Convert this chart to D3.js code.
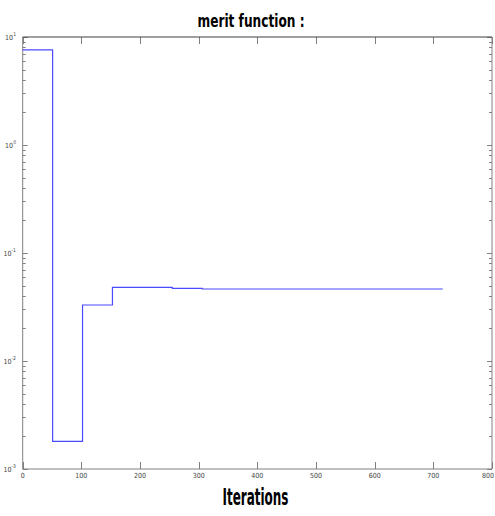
<!DOCTYPE html>
<html>
<head>
<meta charset="utf-8">
<script src="https://cdn.jsdelivr.net/npm/d3@7"></script>
<style>
  body { margin: 0; background: #fff; }
  svg { display: block; }
  text { font-family: "Liberation Sans Narrow", "DejaVu Sans Condensed", "Liberation Sans", sans-serif; }
</style>
</head>
<body>
<div id="chart"></div>
<script>
  // step series
  var stepIter = [0, 51, 102, 153, 255, 306, 716];
  var stepValue = [7.6, 0.0018, 0.033, 0.048, 0.047, 0.0464, 0.0464];
  var xTicks = [0, 100, 200, 300, 400, 500, 600, 700, 800];
  var yExponents = [1, 0, -1, -2, -3];

  var width = 495, height = 516;
  var margin = { top: 37, right: 3, bottom: 47, left: 22.7 };

  var svg = d3.select("#chart").append("svg")
    .attr("width", width)
    .attr("height", height);

  var x = d3.scaleLinear()
    .domain([0, 800])
    .range([margin.left, width - margin.right]);

  var y = d3.scaleLog()
    .domain([1e-3, 10])
    .range([height - margin.bottom, margin.top]);

  var grey = "#808080";

  // minor log ticks (2..9 in each decade)
  var minor = [];
  for (var e = -3; e < 1; e++) {
    for (var m = 2; m <= 9; m++) minor.push(m * Math.pow(10, e));
  }

  var ticksG = svg.append("g").attr("stroke", grey).attr("stroke-width", 1);

  // left + right minor / major ticks, pointing inward
  [[x(0), 1], [x(800), -1]].forEach(function(side) {
    ticksG.selectAll(null)
      .data(minor).enter().append("line")
      .attr("x1", side[0]).attr("x2", side[0] + side[1] * 3)
      .attr("y1", function(d) { return Math.round(y(d)) + 0.5; })
      .attr("y2", function(d) { return Math.round(y(d)) + 0.5; });
    ticksG.selectAll(null)
      .data(yExponents).enter().append("line")
      .attr("x1", side[0]).attr("x2", side[0] + side[1] * 5)
      .attr("y1", function(d) { return Math.round(y(Math.pow(10, d))) + 0.5; })
      .attr("y2", function(d) { return Math.round(y(Math.pow(10, d))) + 0.5; });
  });

  // bottom + top ticks, pointing inward
  [[y(1e-3), -1], [y(10), 1]].forEach(function(side) {
    ticksG.selectAll(null)
      .data(xTicks).enter().append("line")
      .attr("x1", function(d) { return Math.round(x(d)) + 0.5; })
      .attr("x2", function(d) { return Math.round(x(d)) + 0.5; })
      .attr("y1", side[0]).attr("y2", side[0] + side[1] * 7);
  });

  // frame
  var x0 = x(0), x1 = x(800), yb = y(1e-3), yt = y(10);
  svg.append("line").attr("x1", x0).attr("x2", x1).attr("y1", yt).attr("y2", yt)
    .attr("stroke", "#404040");
  svg.append("line").attr("x1", x0).attr("x2", x1).attr("y1", yb).attr("y2", yb)
    .attr("stroke", grey);
  svg.append("line").attr("x1", x0).attr("x2", x0).attr("y1", yt).attr("y2", yb)
    .attr("stroke", grey);
  svg.append("line").attr("x1", x1).attr("x2", x1).attr("y1", yt).attr("y2", yb)
    .attr("stroke", grey);

  // x tick labels (last one pulled in so it stays on the page)
  svg.append("g").selectAll("text")
    .data(xTicks).enter().append("text")
    .attr("x", function(d, i) { return i === xTicks.length - 1 ? width - 1 : x(d); })
    .attr("y", yb + 9)
    .attr("text-anchor", function(d, i) { return i === xTicks.length - 1 ? "end" : "middle"; })
    .attr("font-size", 7)
    .attr("fill", "#444")
    .text(function(d) { return d; });

  // y tick labels 10^n
  var yl = svg.append("g").selectAll("text")
    .data(yExponents).enter().append("text")
    .attr("x", 16)
    .attr("y", function(d) { return y(Math.pow(10, d)) + 3; })
    .attr("text-anchor", "end")
    .attr("font-size", 7)
    .attr("fill", "#444");
  yl.append("tspan").text("10");
  yl.append("tspan")
    .attr("dy", -4)
    .attr("font-size", 5)
    .text(function(d) { return d; });

  // the merit curve
  var line = d3.line()
    .x(function(d, i) { return x(stepIter[i]); })
    .y(function(d) { return y(d); })
    .curve(d3.curveStepAfter);

  svg.append("path")
    .datum(stepValue)
    .attr("fill", "none")
    .attr("stroke", "#4a4aff")
    .attr("stroke-width", 1.2)
    .attr("d", line);

  // titles
  svg.append("text")
    .attr("x", 251).attr("y", 27)
    .attr("text-anchor", "middle")
    .attr("font-size", 17)
    .attr("font-weight", "bold")
    .attr("textLength", 107)
    .attr("lengthAdjust", "spacingAndGlyphs")
    .text("merit function :");

  svg.append("text")
    .attr("x", 255.5).attr("y", 505)
    .attr("text-anchor", "middle")
    .attr("font-size", 23)
    .attr("font-weight", "bold")
    .attr("textLength", 66)
    .attr("lengthAdjust", "spacingAndGlyphs")
    .text("Iterations");
</script>
</body>
</html>
